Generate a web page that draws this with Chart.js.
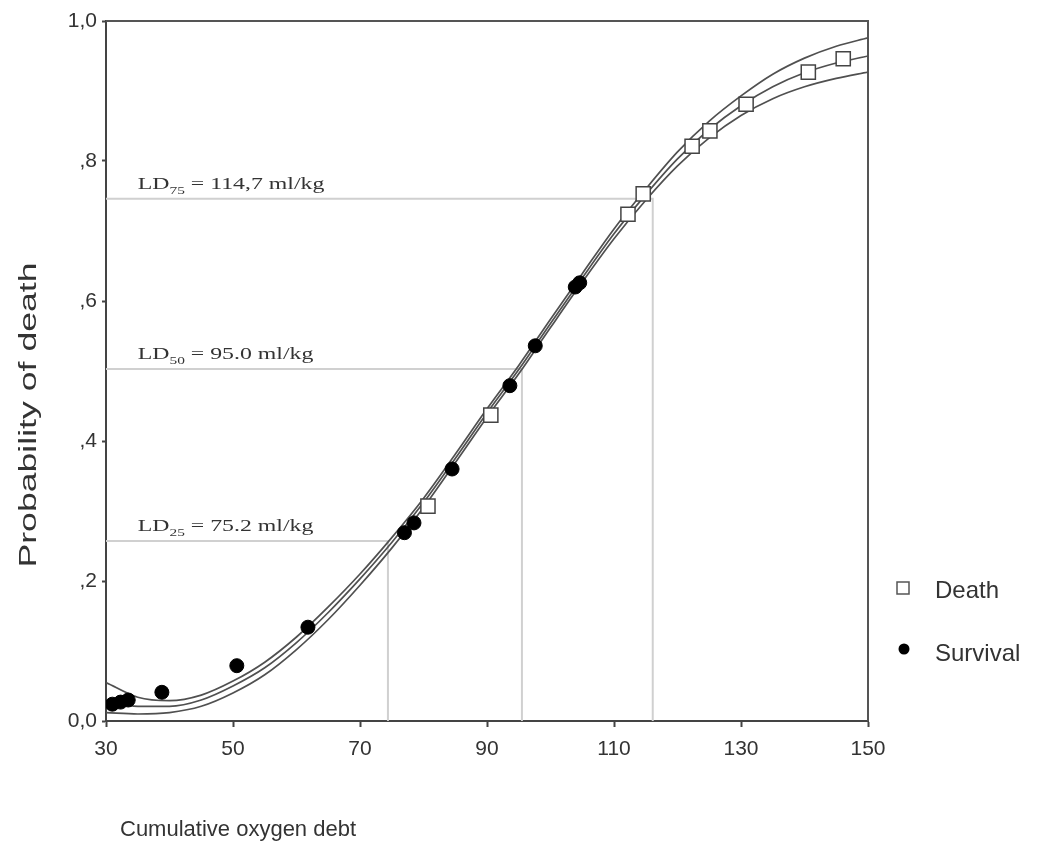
<!DOCTYPE html>
<html>
<head>
<meta charset="utf-8">
<script src="https://cdn.jsdelivr.net/npm/chart.js@4"></script>
<style>
	html, body { margin: 0; padding: 0; background: #fff; }
	#wrap { width: 1040px; height: 850px; position: relative; }
</style>
</head>
<body>
<div id="wrap"><canvas id="chartjs-canvas"></canvas></div>
<script>
// fitted curve and its bands
const curveX = [30, 35, 40, 45, 50, 55, 60, 65, 70, 75, 80, 85, 90, 95, 100, 105, 110, 115, 120, 125, 130, 135, 140, 145, 150];
const fitY = [0.030, 0.021, 0.021, 0.030, 0.050, 0.076, 0.112, 0.155, 0.203, 0.255, 0.312, 0.375, 0.440, 0.502, 0.568, 0.633, 0.696, 0.752, 0.803, 0.845, 0.879, 0.906, 0.926, 0.940, 0.950];
const upperY = [0.055, 0.034, 0.029, 0.037, 0.057, 0.084, 0.120, 0.163, 0.210, 0.262, 0.318, 0.381, 0.446, 0.508, 0.574, 0.639, 0.703, 0.760, 0.813, 0.857, 0.893, 0.924, 0.947, 0.964, 0.976];
const lowerY = [0.012, 0.010, 0.012, 0.021, 0.040, 0.066, 0.102, 0.145, 0.194, 0.247, 0.305, 0.369, 0.434, 0.496, 0.562, 0.627, 0.689, 0.744, 0.793, 0.833, 0.865, 0.889, 0.906, 0.918, 0.927];

// observations
const deathX = [80.7, 90.6, 112.2, 114.6, 122.3, 125.1, 130.8, 140.6, 146.1];
const deathY = [0.307, 0.437, 0.724, 0.753, 0.821, 0.843, 0.881, 0.927, 0.946];
const survivalX = [31, 32.3, 33.5, 38.8, 50.6, 61.8, 77.0, 78.5, 84.5, 93.6, 97.6, 103.9, 104.6];
const survivalY = [0.024, 0.027, 0.030, 0.041, 0.079, 0.134, 0.269, 0.283, 0.360, 0.479, 0.536, 0.620, 0.626];

// LD reference lines
const ldSub = ['75', '50', '25'];
const ldText = [' = 114,7 ml/kg', ' = 95.0 ml/kg', ' = 75.2 ml/kg'];
const ldX = [116.1, 95.5, 74.4];
const ldY = [0.746, 0.503, 0.257];

// axes
const xTicks = [30, 50, 70, 90, 110, 130, 150];
const yTicks = [0, 0.2, 0.4, 0.6, 0.8, 1.0];
const yTickLabels = ['0,0', ',2', ',4', ',6', ',8', '1,0'];
const legendNames = ['Death', 'Survival'];
const xTitle = 'Cumulative oxygen debt';
const yTitle = 'Probability of death';

const sans = 'Liberation Sans, Arial, sans-serif';
const serif = 'Liberation Serif, Times New Roman, serif';

const toPoints = (xs, ys) => xs.map((x, i) => ({x, y: ys[i]}));

const curve = (label, ys) => ({
	type: 'line',
	label,
	data: toPoints(curveX, ys),
	borderColor: '#505050',
	borderWidth: 1.7,
	pointRadius: 0,
	cubicInterpolationMode: 'monotone',
	fill: false,
	order: 2
});

const refLines = ldX.map((x, i) => ({
	type: 'line',
	label: 'LD' + ldSub[i],
	data: [{x: 30, y: ldY[i]}, {x, y: ldY[i]}, {x, y: 0}],
	borderColor: '#d0d0d0',
	borderWidth: 2,
	pointRadius: 0,
	tension: 0,
	fill: false,
	order: 3
}));

const framePlugin = {
	id: 'frame',
	beforeDatasetsDraw: chart => {
		const {ctx, chartArea: a} = chart;
		ctx.save();
		ctx.strokeStyle = '#555';
		ctx.lineWidth = 2;
		ctx.beginPath();
		ctx.moveTo(a.left, a.top);
		ctx.lineTo(a.right, a.top);
		ctx.lineTo(a.right, a.bottom);
		ctx.stroke();
		ctx.restore();
	}
};

const ldLabelPlugin = {
	id: 'ldLabels',
	afterDatasetsDraw: chart => {
		const {ctx} = chart;
		const xs = chart.scales.x, ys = chart.scales.y;
		ctx.save();
		ctx.fillStyle = '#333';
		ctx.textBaseline = 'alphabetic';
		ctx.textAlign = 'left';
		ldSub.forEach((sub, i) => {
			const px = xs.getPixelForValue(35);
			const py = ys.getPixelForValue(ldY[i]) - 10;
			ctx.save();
			ctx.translate(px, py);
			ctx.scale(1.4, 1);
			let cx = 0;
			ctx.font = `17px ${serif}`;
			ctx.fillText('LD', cx, 0);
			cx += ctx.measureText('LD').width;
			ctx.font = `11px ${serif}`;
			ctx.fillText(sub, cx, 5);
			cx += ctx.measureText(sub).width;
			ctx.font = `17px ${serif}`;
			ctx.fillText(ldText[i], cx, 0);
			ctx.restore();
		});
		ctx.restore();
	}
};

const sideLegendPlugin = {
	id: 'sideLegend',
	afterDraw: chart => {
		const {ctx, chartArea: a} = chart;
		const mx = a.right + 35, tx = a.right + 67;
		const rows = [591, 654];
		ctx.save();
		ctx.font = `24px ${sans}`;
		ctx.textBaseline = 'middle';
		ctx.textAlign = 'left';
		// Death: open square
		ctx.strokeStyle = '#555';
		ctx.lineWidth = 1.5;
		ctx.fillStyle = '#fff';
		ctx.fillRect(mx - 6, rows[0] - 9, 12, 12);
		ctx.strokeRect(mx - 6, rows[0] - 9, 12, 12);
		ctx.fillStyle = '#333';
		ctx.fillText(legendNames[0], tx, rows[0]);
		// Survival: filled dot
		ctx.fillStyle = '#000';
		ctx.beginPath();
		ctx.arc(mx + 1, rows[1] - 5, 5.5, 0, Math.PI * 2);
		ctx.fill();
		ctx.fillStyle = '#333';
		ctx.fillText(legendNames[1], tx, rows[1]);
		ctx.restore();
	}
};

// axis titles sit off-centre in the reference, so they are drawn by hand
const axisTitlePlugin = {
	id: 'axisTitles',
	afterDraw: chart => {
		const {ctx, chartArea: a} = chart;
		ctx.save();
		ctx.fillStyle = '#333';
		ctx.textBaseline = 'middle';
		ctx.font = `22px ${sans}`;
		ctx.textAlign = 'left';
		ctx.fillText(xTitle, a.left + 14, 830);
		ctx.font = `23px ${sans}`;
		ctx.translate(30, 415);
		ctx.rotate(-Math.PI / 2);
		ctx.scale(1.55, 1);
		ctx.textAlign = 'center';
		ctx.fillText(yTitle, 0, 0);
		ctx.restore();
	}
};

const data = {
	datasets: [
		{
			type: 'scatter',
			label: legendNames[0],
			data: toPoints(deathX, deathY),
			pointStyle: 'rect',
			pointRadius: 10,
			backgroundColor: '#fff',
			borderColor: '#444',
			borderWidth: 1.5,
			order: 0
		},
		{
			type: 'scatter',
			label: legendNames[1],
			data: toPoints(survivalX, survivalY),
			pointStyle: 'circle',
			pointRadius: 7,
			backgroundColor: '#000',
			borderColor: '#000',
			borderWidth: 1,
			order: 1
		},
		curve('Upper', upperY),
		curve('Fit', fitY),
		curve('Lower', lowerY),
		...refLines
	]
};

const config = {
	type: 'scatter',
	data,
	plugins: [framePlugin, ldLabelPlugin, sideLegendPlugin, axisTitlePlugin],
	options: {
		responsive: true,
		maintainAspectRatio: false,
		animation: false,
		layout: {
			padding: {left: 0, right: 172, top: 21, bottom: 0}
		},
		plugins: {
			legend: {display: false},
			tooltip: {enabled: false},
			title: {display: false}
		},
		scales: {
			x: {
				type: 'linear',
				min: 30,
				max: 150,
				afterBuildTicks: axis => { axis.ticks = xTicks.map(v => ({value: v})); },
				afterFit: axis => { axis.height = 129; },
				border: {color: '#444', width: 2},
				grid: {drawOnChartArea: false, drawTicks: true, tickLength: 6, color: '#444', tickWidth: 2},
				ticks: {
					color: '#333',
					padding: 10,
					maxRotation: 0,
					font: {family: sans, size: 21}
				}
			},
			y: {
				type: 'linear',
				min: 0,
				max: 1,
				afterBuildTicks: axis => { axis.ticks = yTicks.map(v => ({value: v})); },
				afterFit: axis => { axis.width = 106; },
				border: {color: '#444', width: 2},
				grid: {drawOnChartArea: false, drawTicks: true, tickLength: 4, color: '#444', tickWidth: 2},
				ticks: {
					color: '#333',
					padding: 5,
					font: {family: sans, size: 21},
					callback: (value, index) => yTickLabels[index]
				}
			}
		}
	}
};

new Chart(document.getElementById('chartjs-canvas'), config);
</script>
</body>
</html>
